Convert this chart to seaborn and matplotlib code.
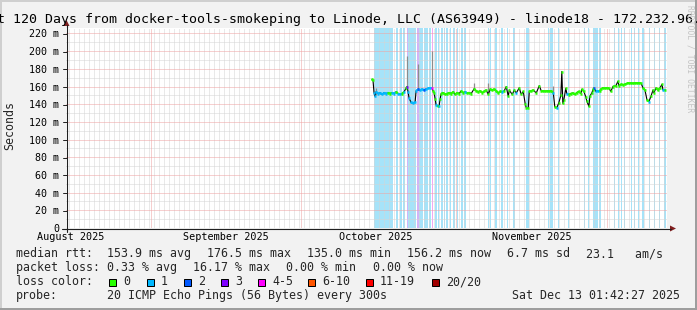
import numpy as np
import pandas as pd
import matplotlib
matplotlib.use("Agg")
import matplotlib.pyplot as plt
import seaborn as sns
from matplotlib.patches import Rectangle, Polygon
from matplotlib.lines import Line2D

# ---------------- data ----------------
end_time = pd.Timestamp("2025-12-13 01:42:27")
span_days = 120
start_time = end_time - pd.Timedelta(days=span_days)

title = ("Last 120 Days from docker-tools-smokeping to Linode, LLC (AS63949) "
         "- linode18 - 172.232.96.")

month_starts = ["2025-09-01", "2025-10-01", "2025-11-01", "2025-12-01"]
month_label_dates = ["2025-08-16", "2025-09-16", "2025-10-16", "2025-11-16"]
month_labels = ["August 2025", "September 2025", "October 2025", "November 2025"]

y_ticks = [0, 20, 40, 60, 80, 100, 120, 140, 160, 180, 200, 220]
y_tick_labels = ["0", "20 m", "40 m", "60 m", "80 m", "100 m", "120 m",
                 "140 m", "160 m", "180 m", "200 m", "220 m"]

# median rtt (ms), time as days since graph start, loss level index
median_day = [
    61.1, 61.3, 61.5, 61.7, 61.9, 62.3, 62.7, 63.1, 63.5, 63.9, 64.3, 64.7, 65.1, 65.5, 65.9, 66.3, 66.7, 67.1, 67.5, 67.9,
    68.1, 68.3, 68.5, 68.9, 69.3, 69.7, 69.9, 70.3, 70.7, 71.1, 71.5, 71.9, 72.3, 72.7, 73.1, 73.3, 73.5, 73.7, 73.9, 74.3, 74.5, 74.7,
    74.9, 75.3, 75.7, 76.1, 76.5, 76.9, 77.3, 77.7, 78.1, 78.5, 78.9, 79.3, 79.7, 80.1, 80.5, 80.9, 81.5, 81.9, 82.3, 82.7, 83.1, 83.5, 83.9, 84.3, 84.7, 85.1, 85.5, 85.9, 86.3, 86.7,
    87.1, 87.5, 87.9, 88.3, 88.5, 89.1, 89.5, 89.9, 90.5, 90.9, 91.3, 91.7, 91.9, 92.3, 92.5, 92.9, 93.3, 93.9, 94.5, 94.9, 95.3, 95.7, 96.1, 96.5, 96.9, 97.3, 97.6, 98.0, 98.4, 98.8, 99.0, 99.2, 99.4, 99.8,
    100.0, 100.4, 100.8, 101.2, 101.6, 102.0, 102.4, 102.8, 103.0, 103.4, 103.8, 104.0, 104.4, 104.6, 105.0, 105.2, 105.4, 105.8, 106.2, 106.6, 106.8,
    107.2, 107.6, 108.0, 108.4, 108.8, 109.2, 109.8, 110.2, 110.4, 110.8, 111.2, 111.6, 112.0, 112.4, 112.8, 113.2, 113.6, 114.0, 114.4, 114.8, 115.2, 115.6, 116.0, 116.4, 116.8, 117.2, 117.4, 117.8, 118.2, 118.6, 119.0, 119.2, 119.6,
]
median_ms = [
    168, 167, 153, 149, 154, 152, 153, 151, 153, 152, 153, 152, 153, 152, 154, 152, 151, 152, 154, 158,
    160, 154, 147, 142, 141.5, 142, 155, 157, 156, 157, 156, 157, 158, 158, 158, 155, 153, 146, 139, 138, 138, 146,
    152, 153, 151, 152, 153, 152, 154, 151, 153, 152, 155, 153, 154, 152.5, 153, 152, 157.5, 155, 154, 155, 153, 154.5, 156, 151, 157, 156, 157, 155, 152.7, 154.5,
    154, 155, 160, 149, 156, 151, 156, 152.7, 158.5, 151, 154.5, 140, 136, 136, 154.5, 155, 156, 152.7, 161, 155, 155, 154.5, 155, 154.5, 155, 152.7, 137, 136, 141.7, 150, 177, 141, 145, 158,
    152, 150.8, 152, 152.7, 151, 153, 154.5, 152, 157, 154.5, 148, 143.3, 137.6, 149, 153, 156, 158.4, 154.5, 154.5, 155, 157,
    158.5, 158, 158.5, 158, 154.5, 160, 161, 165.9, 161, 162.5, 162, 162.5, 163.5, 163.5, 164, 163.5, 164, 164, 164, 164, 158.5, 156, 145, 143, 149, 156, 152.7, 158.5, 156, 158.5, 162.5, 156, 156.2,
]
median_loss = [
    0, 0, 1, 1, 1, 1, 1, 1, 1, 1, 0, 0, 1, 1, 0, 1, 1, 0, 1, 0,
    3, 1, 1, 1, 1, 1, 1, 2, 1, 1, 2, 1, 1, 1, 4, 0, 0, 0, 1, 0, 1, 0,
    0, 0, 0, 0, 0, 0, 0, 0, 0, 0, 0, 0, 1, 0, 0, 0, 0, 0, 0, 0, 0, 0, 0, 0, 0, 0, 0, 0, 0, 0,
    1, 0, 0, 0, 0, 0, 0, 1, 0, 0, 0, 0, 0, 0, 0, 0, 0, 0, 0, 0, 0, 0, 0, 0, 0, 1, 0, 1, 0, 0, 0, 0, 0, 0,
    1, 0, 0, 0, 0, 0, 0, 0, 0, 0, 0, 0, 0, 0, 0, 0, 2, 1, 1, 0, 0,
    0, 0, 0, 0, 0, 0, 0, 0, 0, 0, 0, 0, 0, 0, 0, 0, 0, 0, 0, 0, 0, 0, 0, 1, 0, 0, 0, 0, 0, 0, 0, 1, 0,
]

# smoke (ping spread) spikes
smoke_day = [61.9, 68.1, 70.2, 73.1, 81.5, 84.3, 97.3]
smoke_lo = [150, 158, 156, 157, 156, 151, 153]
smoke_hi = [158, 194, 186, 200, 164, 164, 161]

# packet-loss background bars
loss_bar_start = [61.5, 65.9, 66.7, 67.3, 68.0, 68.3, 70.1, 70.5, 71.5, 72.5, 73.0, 73.7, 74.2, 74.9, 75.4,
                  75.9, 76.6, 77.3, 78.0, 78.9, 79.5, 84.2, 84.6, 85.7, 86.9, 88.0, 89.3, 91.9, 92.2, 96.2,
                  96.6, 98.2, 100.2, 103.4, 104.2, 105.2, 106.5, 109.4, 110.2, 110.8, 111.4, 112.8, 113.4,
                  114.2, 115.0, 116.4, 117.4, 118.4, 119.4]
loss_bar_end = [65.3, 66.2, 67.0, 67.6, 68.3, 69.9, 70.4, 71.3, 72.3, 72.9, 73.3, 74.0, 74.5, 75.2, 75.7,
                76.2, 76.9, 77.6, 78.3, 79.2, 79.8, 84.5, 84.9, 86.0, 87.3, 88.3, 89.6, 92.2, 92.5, 96.5,
                97.3, 98.5, 100.5, 103.7, 104.5, 106.2, 106.8, 109.7, 110.5, 111.1, 111.7, 113.1, 113.7,
                114.5, 115.4, 116.7, 117.7, 118.7, 119.8]
loss_bar_level = [1, 1, 1, 1, 3, 1, 3, 1, 1, 1, 4, 1, 1, 1, 1,
                  1, 1, 1, 1, 1, 1, 1, 1, 1, 1, 1, 1, 1, 1, 1,
                  1, 1, 1, 1, 1, 1, 1, 1, 1, 1, 1, 1, 1,
                  1, 1, 1, 1, 1, 1]

loss_names = ["0", "1", "2", "3", "4-5", "6-10", "11-19", "20/20"]
loss_colors = ["#26ff00", "#00b8ff", "#0059ff", "#7e00ff", "#ff00ff", "#ff5500", "#ff0000", "#a10000"]
loss_bg_colors = ["#c8ffbf", "#a6e3f9", "#abc8ff", "#d2b4f7", "#f2a8f2", "#ffccb3", "#ffb3b3", "#e0b3b3"]

legend_rtt = ["153.9 ms avg", "176.5 ms max", "135.0 ms min", "156.2 ms now", "6.7 ms sd", "23.1   am/s"]
legend_loss = ["0.33 % avg", "16.17 % max", "0.00 % min", "0.00 % now"]
probe_text = "20 ICMP Echo Pings (56 Bytes) every 300s"
stamp_text = "Sat Dec 13 01:42:27 2025"

# ---------------- style ----------------
sns.set_theme(style="white")
plt.rcParams["font.family"] = ["DejaVu Sans Mono", "DejaVu Sans"]

W, H = 697, 310
fig = plt.figure(figsize=(W / 100, H / 100), dpi=100)
fig.patch.set_facecolor("#f2f2f2")

def days_of(ts):
    return (pd.Timestamp(ts) - start_time) / pd.Timedelta(days=1)

ax = fig.add_axes([66 / W, (H - 228) / H, 601 / W, 200 / H])
ax.set_facecolor("white")
ax.set_xlim(0, span_days)
ax.set_ylim(0, 226.2)
for s in ax.spines.values():
    s.set_visible(False)

# loss bars
for s0, s1, lv in zip(loss_bar_start, loss_bar_end, loss_bar_level):
    ax.axvspan(s0, s1, color=loss_bg_colors[lv], lw=0, zorder=1)

# grid
dot = (0, (1, 1))
minor_c = "#d4d4d4"
major_c = "#efa0a0"
for d in np.arange(0.5, span_days, 1.0):
    ax.axvline(d, color=minor_c, lw=0.72, ls=dot, zorder=2)
for yv in range(10, 226, 20):
    ax.axhline(yv, color=minor_c, lw=0.72, ls=dot, zorder=2)
for yv in y_ticks[1:]:
    ax.axhline(yv, color=major_c, lw=0.72, ls=dot, zorder=2.1)
for m in month_starts:
    ax.axvline(days_of(m), color=major_c, lw=0.72, ls=dot, zorder=2.1)

# smoke
ax.vlines(smoke_day, smoke_lo, smoke_hi, color="#8c8c8c", lw=0.9, zorder=3)

# median line (black) via seaborn
df = pd.DataFrame({"day": median_day, "ms": median_ms, "loss": median_loss})
sns.lineplot(data=df, x="day", y="ms", ax=ax, color="black", lw=0.8,
             estimator=None, sort=False, zorder=4)
# loss-colored median pieces
for i in range(len(df)):
    d0, v0, lv = df.day[i], df.ms[i], df.loss[i]
    if i + 1 < len(df) and abs(df.ms[i + 1] - v0) < 3:
        ax.plot([d0, df.day[i + 1]], [v0, df.ms[i + 1]], color=loss_colors[lv],
                lw=1.4, solid_capstyle="butt", zorder=5)
    ax.plot([d0 - 0.2, d0 + 0.2], [v0, v0], color=loss_colors[lv], lw=1.8,
            solid_capstyle="butt", zorder=5)

# ticks
ax.set_yticks(y_ticks)
ax.set_yticklabels(y_tick_labels)
ax.tick_params(axis="y", length=0, pad=5, labelsize=7.2, labelcolor="black")
ax.set_xticks([days_of(d) for d in month_label_dates])
ax.set_xticklabels(month_labels)
ax.tick_params(axis="x", length=0, pad=3.2, labelsize=7.3, labelcolor="black")
ax.set_xlabel("")
ax.set_ylabel("")

# ---------------- overlay in pixel coordinates ----------------
ov = fig.add_axes([0, 0, 1, 1], zorder=10)
ov.set_xlim(0, W)
ov.set_ylim(H, 0)
ov.axis("off")
ov.patch.set_visible(False)

axis_c = "#1f1f1f"
arrow_c = "#801f1f"
ov.add_line(Line2D([62, 671], [228.5, 228.5], color=axis_c, lw=0.8))
ov.add_line(Line2D([66.5, 66.5], [232, 25], color=axis_c, lw=0.8))
ov.add_patch(Polygon([[670, 225.5], [670, 231.5], [676, 228.5]], closed=True, color=arrow_c, lw=0))
ov.add_patch(Polygon([[63.5, 26], [69.5, 26], [66.5, 20]], closed=True, color=arrow_c, lw=0))
# y tick marks
for yv in y_ticks:
    yp = 228.5 - yv * (200 / 226.2)
    ov.add_line(Line2D([63, 66.5], [yp, yp], color=axis_c, lw=0.7))

# frame shading
ov.add_patch(Rectangle((0, 0), W, 2, color="#cfcfcf", lw=0))
ov.add_patch(Rectangle((0, 0), 2, H, color="#cfcfcf", lw=0))
ov.add_patch(Rectangle((0, H - 2), W, 2, color="#9e9e9e", lw=0))
ov.add_patch(Rectangle((W - 2, 0), 2, H, color="#9e9e9e", lw=0))

# title
ov.text(-27.1, 23.5, title, fontsize=9.5, ha="left", va="baseline", color="black")
# y label
ov.text(10, 126, "Seconds", fontsize=8.4, rotation=90, ha="center", va="center")
# watermark
ov.text(690, 59, "RRDTOOL / TOBI OETIKER", fontsize=5.8, rotation=270,
        ha="center", va="center", color="#c4c4c4")

# legend
fs = 8.4
ov.text(16, 257.3, "median rtt:", fontsize=fs, va="baseline")
for x, s in zip([107, 207, 307, 407, 507, 586], legend_rtt):
    ov.text(x, 257.3, s, fontsize=fs, va="baseline")
ov.text(16, 271.3, "packet loss:", fontsize=fs, va="baseline")
for x, s in zip([107, 193, 286, 373], legend_loss):
    ov.text(x, 271.3, s, fontsize=fs, va="baseline")
ov.text(16, 285.3, "loss color:", fontsize=fs, va="baseline")
box_x = [108, 146, 183, 220, 257, 307, 365, 431]
for x, name, c in zip(box_x, loss_names, loss_colors):
    ov.add_patch(Rectangle((x + 0.5, 278.5), 7.5, 7.5, facecolor=c, edgecolor="black", lw=0.72))
    ov.text(x + 15, 285.3, name, fontsize=fs, va="baseline")
ov.text(16, 299.3, "probe:", fontsize=fs, va="baseline")
ov.text(107, 299.3, probe_text, fontsize=fs, va="baseline")
ov.text(680, 299.3, stamp_text, fontsize=fs, va="baseline", ha="right")

fig.savefig("out.png", dpi=100, facecolor=fig.get_facecolor())
